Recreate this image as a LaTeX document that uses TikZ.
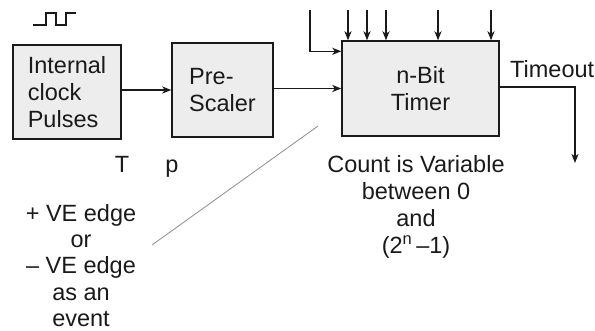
\documentclass[tikz,border=0pt]{standalone}
\usepackage{fontspec}
\setmainfont{Liberation Sans}
\usetikzlibrary{
  arrows.meta,
  positioning,
  calc
}
\definecolor{tmInk}{HTML}{1A1A1A}
\definecolor{tmFill}{HTML}{EDEDED}
\definecolor{tmMute}{HTML}{8C8C8C}
\tikzset{
  tmnode/.style={
    draw=tmInk, fill=tmFill, line width=1.4pt, align=left, inner sep=0pt
  },
  clockbox/.style={tmnode, minimum width=108pt, minimum height=94pt},
  prebox/.style={tmnode, minimum width=101pt, minimum height=94pt},
  timerbox/.style={tmnode, align=center, minimum width=157pt, minimum height=95pt},
  sig/.style={-{Stealth[length=9pt, width=7pt, inset=2.5pt]}, line width=1.3pt, tmInk},
  wave/.style={line width=1.3pt, tmInk},
  hint/.style={line width=0.8pt, tmMute},
  tag/.style={align=center, inner sep=0pt}
}

\begin{document}
\begin{tikzpicture}[x=1pt, y=-1pt, font=\fontsize{23.5}{27}\selectfont, text=tmInk]
  \useasboundingbox (0,0) rectangle (595,330);
  \node[clockbox] (clock) at (67,92) {Internal\\clock\\Pulses};
  \node[prebox] (pre) at (222.5,90) {Pre-\\Scaler};
  \node[timerbox] (timer) at (420.5,88.5) {n-Bit\\Timer};
  \draw[wave] (33,25) -- (46,25) -- (46,13) -- (56,13) -- (56,25) -- (66,25) -- (66,13) -- (76,13);
  \draw[sig] (clock.east |- pre.west) -- (pre.west);
  \draw[sig] (pre.east |- timer.west) -- (timer.west);
  \coordinate (gate) at (310,10);
  \draw[sig] (gate) |- ($(timer.north west)+(0,11)$);
  \foreach \x/\i in {348/1, 367/2, 386/3, 438/4, 491/5}{
    \coordinate (in\i) at (\x,10);
    \draw[sig] (in\i) -- (in\i |- timer.north);
  }
  \coordinate (tout) at (575,163);
  \draw[sig] ($(timer.east)+(0,-1.5)$) -| (tout);
  \node[tag, anchor=base west] (timeout) at (510,77) {Timeout};
  \node[tag, anchor=base] (lblT) at (122,172) {T};
  \node[tag, anchor=base] (lblP) at (172,172) {p};
  \node[tag, anchor=north] (count) at (416,155)
    {Count is Variable\\between 0\\and\\(2\textsuperscript{n}\,–1)};
  \node[tag, anchor=north, font=\fontsize{23.5}{26.3}\selectfont] (event) at (81,204)
    {+ VE edge\\or\\– VE edge\\as an\\event};
  \coordinate (hintA) at (152,245);
  \coordinate (hintB) at (318,126);
  \draw[hint] (hintA) -- (hintB);
\end{tikzpicture}
\end{document}
